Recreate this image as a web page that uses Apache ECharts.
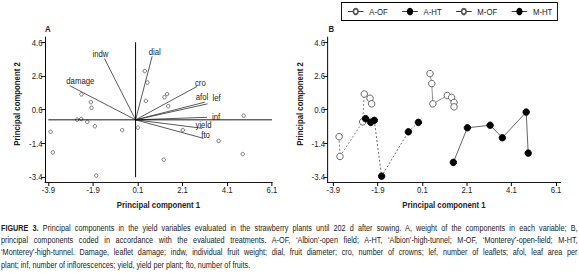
<!DOCTYPE html>
<html>
<head>
<meta charset="utf-8">
<script src="https://cdn.jsdelivr.net/npm/echarts@6/dist/echarts.min.js"></script>
<style>
  html,body{margin:0;padding:0;background:#fff;}
  #wrap{position:relative;width:579px;height:273px;overflow:hidden;}
  #chart{position:absolute;left:0;top:0;width:706px;height:215px;transform:scaleX(0.8201133);transform-origin:0 0;}
  #cap{position:absolute;left:1px;top:221.5px;width:703px;transform:scaleX(0.8201133);transform-origin:0 0;
       font-family:"Liberation Sans",Arimo,Arial,sans-serif;font-size:8.85px;line-height:12.4px;color:#222;}
  #cap div{white-space:nowrap;text-align:justify;text-align-last:justify;}
  #cap div.last{text-align-last:left;}
</style>
</head>
<body>
<div id="wrap">
<div id="chart"></div>
<div id="cap">
<div><b>FIGURE 3.</b> Principal components in the yield variables evaluated in the strawberry plants until 202 d after sowing. A, weight of the components in each variable; B,</div>
<div>principal components coded in accordance with the evaluated treatments. A-OF, ‘Albion’-open field; A-HT, ‘Albion’-high-tunnel; M-OF, ‘Monterey’-open-field; M-HT,</div>
<div>‘Monterey’-high-tunnel. Damage, leaflet damage; indw, individual fruit weight; dial, fruit diameter; cro, number of crowns; lef, number of leaflets; afol, leaf area per</div>
<div class="last">plant; inf, number of inflorescences; yield, yield per plant; fto, number of fruits.</div>
</div>
</div>
<script>
// ---- data ----
const xTicks = [-3.9, -1.9, 0.1, 2.1, 4.1, 6.1];
const yTicks = [4.6, 2.6, 0.6, -1.4, -3.4];

// Panel A: scores
const scoreAX = [-3.80, -3.70, -2.61, -2.43, -2.16, -1.82, -1.76, -0.60, 0.10, -2.42, -2.00, -1.97, 0.41, 0.53, 0.46, 1.29, 1.41, 1.46, 4.83, 2.11, 3.71, 4.79, 1.26];
const scoreAY = [-0.71, -1.93, 0.01, 0.05, -0.12, -0.38, -3.30, -0.61, -0.46, 1.51, 1.05, 0.71, 2.89, 2.21, 1.12, 1.34, 1.53, 0.81, 0.25, -0.61, -1.25, -2.03, -2.36];

// Panel A: variable loadings (arrow tips)
const varNames = ['damage', 'indw', 'dial', 'cro', 'afol', 'lef', 'inf', 'yield', 'fto'];
const loadX = [-2.94, -1.39, 0.74, 2.75, 3.10, 3.22, 3.20, 2.97, 3.04];
const loadY = [2.02, 3.63, 3.77, 1.98, 1.05, 0.95, 0.15, -0.50, -1.10];

// Panel B: treatments
const seriesNames = ['A-OF', 'A-HT', 'M-OF', 'M-HT'];
const aofX = [-3.64, -3.60, -2.58, -2.51, -2.25, -2.18];
const aofY = [-1.00, -2.17, -0.12, 1.53, 1.28, 0.95];
const ahtX = [-2.45, -2.22, -2.06, -1.73, -0.53, -0.08];
const ahtY = [0.07, -0.15, -0.03, -3.34, -0.71, -0.15];
const mofX = [0.44, 0.52, 0.57, 1.22, 1.41, 1.52, 1.52];
const mofY = [2.74, 2.15, 0.95, 1.44, 1.33, 1.03, 0.77];
const mhtX = [1.49, 2.12, 3.14, 3.69, 4.76, 4.85];
const mhtY = [-2.52, -0.47, -0.32, -1.06, 0.46, -1.97];

// ---- layout / style ----
// The chart is drawn wider and condensed horizontally by CSS (narrow type face look).
const S = 579 / 706;
const px = v => v / S;            // page px -> unscaled chart px (horizontal)
const labelOffset = {             // label centre offset from arrow tip, page px
  damage: [10.5, -5], indw: [-4, -5], dial: [2.6, -5], cro: [3.3, -4], afol: [-3, -5.5],
  lef: [9, -5.6], inf: [9, -1], yield: [1.5, -4], fto: [2, -4]
};
const FONT = '"Liberation Sans", Arimo, Arial, sans-serif';
const INK = '#222';
const zip = (xs, ys) => xs.map((x, i) => [x, ys[i]]);

function xAxisCfg(idx, min, max) {
  return {
    type: 'value', gridIndex: idx, min: min, max: max,
    name: 'Principal component 1', nameLocation: 'middle', nameGap: 17,
    nameTextStyle: { fontFamily: FONT, fontSize: 9.5, fontWeight: 'bold', color: INK },
    axisLine: { show: true, onZero: false, lineStyle: { color: '#000', width: 1 } },
    axisTick: { show: true, length: 4, customValues: xTicks, lineStyle: { color: '#000', width: 1.2 } },
    axisLabel: { customValues: xTicks, margin: 3, fontFamily: FONT, fontSize: 9.5, color: INK,
      formatter: v => v.toFixed(1) },
    splitLine: { show: false }
  };
}
function yAxisCfg(idx, min, max) {
  return {
    type: 'value', gridIndex: idx, min: min, max: max,
    axisLine: { show: true, onZero: false, lineStyle: { color: '#000', width: 1.2 } },
    axisTick: { show: true, length: px(4), customValues: yTicks, lineStyle: { color: '#000', width: 1 } },
    axisLabel: { customValues: yTicks, margin: px(2.5), fontFamily: FONT, fontSize: 9.5, color: INK,
      formatter: v => v.toFixed(1) },
    splitLine: { show: false }
  };
}
function yName(cx) {
  return { type: 'text', x: px(cx), y: 104, rotation: Math.PI / 2, scaleX: S, scaleY: 1 / S,
    style: { text: 'Principal component 2', fontFamily: FONT, fontSize: 9.5, fontWeight: 'bold', fill: INK,
      align: 'center', verticalAlign: 'middle' } };
}

const chart = echarts.init(document.getElementById('chart'), null, { renderer: 'svg' });
const openStyle = { color: '#fff', borderColor: '#555', borderWidth: 1 };
const fillStyle = { color: '#000', borderColor: '#000', borderWidth: 1 };
const bigSym = [px(6.5), 6.5];

chart.setOption({
  animation: false,
  textStyle: { fontFamily: FONT },
  graphic: [
    { type: 'text', left: px(45), top: 23.5, style: { text: 'A', fontFamily: FONT, fontSize: 9.5, fontWeight: 'bold', fill: INK } },
    { type: 'text', left: px(328.5), top: 23.5, style: { text: 'B', fontFamily: FONT, fontSize: 9.5, fontWeight: 'bold', fill: INK } },
    yName(16.7), yName(299.5)
  ],
  legend: {
    left: px(341.5), top: 2.5, orient: 'horizontal',
    borderColor: '#000', borderWidth: 1.1, padding: [4, px(5), 4, px(6)],
    itemGap: 17, itemWidth: 19, itemHeight: 7,
    textStyle: { fontFamily: FONT, fontSize: 9.5, color: INK, padding: [0, 0, 0, 2] },
    lineStyle: { type: 'solid', color: '#222', width: 1 },
    data: seriesNames
  },
  grid: [
    { left: px(45), top: 37, width: px(227), height: 147 },
    { left: px(327.5), top: 37, width: px(233), height: 147 }
  ],
  xAxis: [xAxisCfg(0, -4.05, 6.1), xAxisCfg(1, -4.16, 6.3)],
  yAxis: [yAxisCfg(0, -3.69, 4.91), yAxisCfg(1, -3.69, 4.91)],
  series: [
    { type: 'line', xAxisIndex: 0, yAxisIndex: 0, data: [[0, yTicks[yTicks.length - 1]], [0, yTicks[0]]],
      symbol: 'none', lineStyle: { color: '#000', width: 1.2 }, silent: true },
    { type: 'line', xAxisIndex: 0, yAxisIndex: 0, data: [[xTicks[0], 0], [xTicks[xTicks.length - 1], 0]],
      symbol: 'none', lineStyle: { color: '#000', width: 1 }, silent: true },
    { type: 'custom', xAxisIndex: 0, yAxisIndex: 0, data: zip(loadX, loadY),
      renderItem: function (params, api) {
        const o = api.coord([0, 0]);
        const t = api.coord([api.value(0), api.value(1)]);
        const name = varNames[params.dataIndex];
        const off = labelOffset[name];
        return { type: 'group', children: [
          { type: 'line', shape: { x1: o[0], y1: o[1], x2: t[0], y2: t[1] }, style: { stroke: '#333', lineWidth: 0.9 } },
          { type: 'text', x: t[0] + px(off[0]), y: t[1] + off[1],
            style: { text: name, fill: INK, fontFamily: FONT, fontSize: 9.5, align: 'center', verticalAlign: 'middle' } }
        ] };
      } },
    { type: 'scatter', xAxisIndex: 0, yAxisIndex: 0, data: zip(scoreAX, scoreAY),
      symbol: 'circle', symbolSize: [px(3.5), 3.5], itemStyle: { color: '#fff', borderColor: '#444', borderWidth: 1 } },

    { name: seriesNames[0], type: 'line', xAxisIndex: 1, yAxisIndex: 1, data: zip(aofX, aofY),
      symbol: 'circle', symbolSize: bigSym, itemStyle: openStyle,
      lineStyle: { color: '#666', width: 0.9, type: [2, 2] } },
    { name: seriesNames[1], type: 'line', xAxisIndex: 1, yAxisIndex: 1, data: zip(ahtX, ahtY),
      symbol: 'circle', symbolSize: bigSym, itemStyle: fillStyle,
      lineStyle: { color: '#444', width: 0.9, type: [2, 2] } },
    { name: seriesNames[2], type: 'line', xAxisIndex: 1, yAxisIndex: 1, data: zip(mofX, mofY),
      symbol: 'circle', symbolSize: bigSym, itemStyle: openStyle,
      lineStyle: { color: '#777', width: 0.9 } },
    { name: seriesNames[3], type: 'line', xAxisIndex: 1, yAxisIndex: 1, data: zip(mhtX, mhtY),
      symbol: 'circle', symbolSize: bigSym, itemStyle: fillStyle,
      lineStyle: { color: '#444', width: 0.9 } }
  ]
});
</script>
</body>
</html>
